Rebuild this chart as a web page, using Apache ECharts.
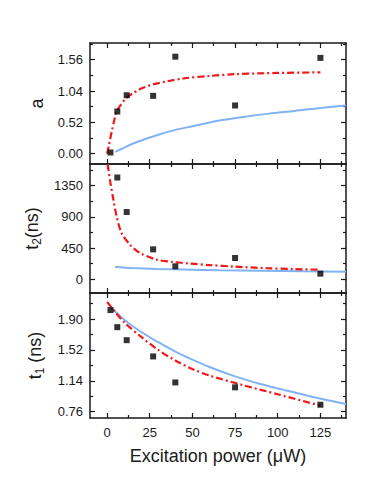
<!DOCTYPE html>
<html lang="en">
<head>
  <meta charset="UTF-8">
  <title>Excitation power fits</title>
  <script src="https://cdn.jsdelivr.net/npm/echarts@6.0.0/dist/echarts.min.js"></script>
  <style>
    html, body { margin: 0; padding: 0; background: #fff; }
    #main { width: 374px; height: 484px; }
  </style>
</head>
<body>
  <div id="main"></div>
  <script>
    // measured points (black squares)
    const powerX = [2, 6, 11.5, 27, 40, 75, 125];
    const aVals = [0.02, 0.70, 0.97, 0.96, 1.61, 0.80, 1.59];
    const t2X = [6, 11.5, 27, 40, 75, 125];
    const t2Vals = [1468, 970, 432, 187, 307, 81];
    const t1Vals = [2.01, 1.80, 1.64, 1.44, 1.12, 1.06, 0.846];

    // red dash-dot curves
    const aRedX = [0, 1, 2, 3, 4, 5.6, 8, 11.5, 15, 20, 27, 35, 45, 60, 75, 100, 125];
    const aRedY = [0, 0.13, 0.27, 0.40, 0.53, 0.69, 0.81, 0.93, 1.00, 1.08, 1.15, 1.20, 1.25, 1.29, 1.32, 1.34, 1.35];
    const t2RedX = [0.4, 2, 3.7, 5.6, 8.5, 13.4, 19.3, 29, 38.8, 48.6, 60, 75, 93.5, 110, 125];
    const t2RedY = [1660, 1389, 1148, 909, 668, 499, 380, 284, 249, 226, 205, 182, 160, 147, 138];
    const t1RedX = [0, 5, 10, 20, 30, 40, 50, 60, 80, 100, 125];
    const t1RedY = [2.11, 1.98, 1.86, 1.68, 1.52, 1.39, 1.285, 1.205, 1.085, 0.975, 0.835];

    // blue solid curves
    const aBlueX = [4.7, 10, 15, 20, 30, 40, 50, 65, 80, 95, 110, 125, 140];
    const aBlueY = [0.03, 0.10, 0.165, 0.22, 0.315, 0.395, 0.455, 0.545, 0.61, 0.665, 0.71, 0.76, 0.80];
    const t2BlueX = [4.7, 15, 29, 45, 66, 90, 115, 140];
    const t2BlueY = [177, 162, 149, 140, 130, 122, 115, 110];
    const t1BlueX = [2, 10, 20, 30, 40, 50, 60, 75, 90, 105, 120, 140];
    const t1BlueY = [2.05, 1.89, 1.74, 1.615, 1.50, 1.40, 1.31, 1.195, 1.10, 1.02, 0.945, 0.855];

    // ticks
    const xMajor = [0, 25, 50, 75, 100, 125];
    const xMinor = [12.5, 37.5, 62.5, 87.5, 112.5, 137.5];
    const aMajor = [0, 0.52, 1.04, 1.56];
    const aMinor = [0.26, 0.78, 1.30, 1.82];
    const t2Major = [0, 450, 900, 1350];
    const t2Minor = [225, 675, 1125, 1575];
    const t1Major = [0.76, 1.14, 1.52, 1.90];
    const t1Minor = [0.95, 1.33, 1.71, 2.09];

    const FONT = 'Liberation Sans, Arial, sans-serif';
    const INK = '#1a1a1a';
    const RED = '#f01818';
    const BLUE = '#80b3f2';

    const panels = [
      { top: 43, height: 121, min: -0.171, max: 1.837, major: aMajor, minor: aMinor,
        name: 'a', fmt: v => v.toFixed(2) },
      { top: 164, height: 129, min: -198, max: 1663, major: t2Major, minor: t2Minor,
        name: '{t|t}{s|2}{t|(ns)}', fmt: v => String(v) },
      { top: 293, height: 125, min: 0.683, max: 2.22, major: t1Major, minor: t1Minor,
        name: '{t|t}{s|1}{t| (ns)}', fmt: v => v.toFixed(2) }
    ];

    const zip = (xs, ys) => xs.map((x, i) => [x, ys[i]]);

    let grids = [], xAxes = [], yAxes = [], series = [];

    function tickAxis(base, values, len, withLine) {
      return Object.assign({
        type: 'value',
        splitLine: { show: false },
        axisLine: { show: withLine, onZero: false, lineStyle: { color: INK, width: 1.5 } },
        axisTick: { show: true, inside: true, length: len, customValues: values,
                    lineStyle: { color: INK, width: 1.2 } },
        axisLabel: { show: false }
      }, base);
    }

    panels.forEach((p, g) => {
      grids.push({ left: 90, right: 28, top: p.top, height: p.height });
      let xi = xAxes.length, yi = yAxes.length;
      let isLast = g === panels.length - 1;

      // x axes: bottom (main), bottom minor, top, top minor
      let xMain = tickAxis({ gridIndex: g, position: 'bottom', min: -10, max: 140 }, xMajor, 5, true);
      if (isLast) {
        xMain.axisLabel = { show: true, customValues: xMajor, margin: 8,
                            color: INK, fontSize: 13, fontFamily: FONT };
        xMain.name = 'Excitation power (μW)';
        xMain.nameLocation = 'middle';
        xMain.nameGap = 29;
        xMain.nameTextStyle = { fontSize: 18, color: INK, fontFamily: FONT };
      }
      xAxes.push(xMain);
      xAxes.push(tickAxis({ gridIndex: g, position: 'bottom', min: -10, max: 140 }, xMinor, 3, false));
      xAxes.push(tickAxis({ gridIndex: g, position: 'top', min: -10, max: 140 }, xMajor, 5, true));
      xAxes.push(tickAxis({ gridIndex: g, position: 'top', min: -10, max: 140 }, xMinor, 3, false));

      // y axes: left (main), left minor, right, right minor
      let yMain = tickAxis({ gridIndex: g, position: 'left', min: p.min, max: p.max }, p.major, 5, true);
      yMain.axisLabel = { show: true, customValues: p.major, margin: 7, formatter: p.fmt,
                          color: INK, fontSize: 13, fontFamily: FONT };
      yMain.name = p.name;
      yMain.nameLocation = 'middle';
      yMain.nameRotate = 90;
      yMain.nameGap = 44;
      yMain.nameTextStyle = {
        fontSize: 18, color: INK, fontFamily: FONT,
        rich: {
          t: { fontSize: 18, color: INK, fontFamily: FONT, lineHeight: 22 },
          s: { fontSize: 12, color: INK, fontFamily: FONT, lineHeight: 11, verticalAlign: 'bottom' }
        }
      };
      yAxes.push(yMain);
      yAxes.push(tickAxis({ gridIndex: g, position: 'left', min: p.min, max: p.max }, p.minor, 3, false));
      yAxes.push(tickAxis({ gridIndex: g, position: 'right', min: p.min, max: p.max }, p.major, 5, true));
      yAxes.push(tickAxis({ gridIndex: g, position: 'right', min: p.min, max: p.max }, p.minor, 3, false));

      p.xi = xi;
      p.yi = yi;
    });

    function lineSeries(p, xs, ys, color, dashed) {
      return {
        type: 'line', xAxisIndex: p.xi, yAxisIndex: p.yi,
        data: zip(xs, ys), showSymbol: false, smooth: 0.3,
        lineStyle: { color: color, width: dashed ? 2.2 : 2, type: dashed ? [7, 3, 2, 3] : 'solid' },
        clip: true, silent: true, z: 2
      };
    }
    function pointSeries(p, xs, ys) {
      return {
        type: 'scatter', xAxisIndex: p.xi, yAxisIndex: p.yi,
        data: zip(xs, ys), symbol: 'rect', symbolSize: 6,
        itemStyle: { color: '#000' }, z: 3
      };
    }

    series.push(lineSeries(panels[0], aBlueX, aBlueY, BLUE, false));
    series.push(lineSeries(panels[0], aRedX, aRedY, RED, true));
    series.push(pointSeries(panels[0], powerX, aVals));

    series.push(lineSeries(panels[1], t2BlueX, t2BlueY, BLUE, false));
    series.push(lineSeries(panels[1], t2RedX, t2RedY, RED, true));
    series.push(pointSeries(panels[1], t2X, t2Vals));

    series.push(lineSeries(panels[2], t1BlueX, t1BlueY, BLUE, false));
    series.push(lineSeries(panels[2], t1RedX, t1RedY, RED, true));
    series.push(pointSeries(panels[2], powerX, t1Vals));

    let chart = echarts.init(document.getElementById('main'), null, { renderer: 'svg' });
    chart.setOption({
      animation: false,
      backgroundColor: '#fff',
      grid: grids,
      xAxis: xAxes,
      yAxis: yAxes,
      series: series
    });
  </script>
</body>
</html>
